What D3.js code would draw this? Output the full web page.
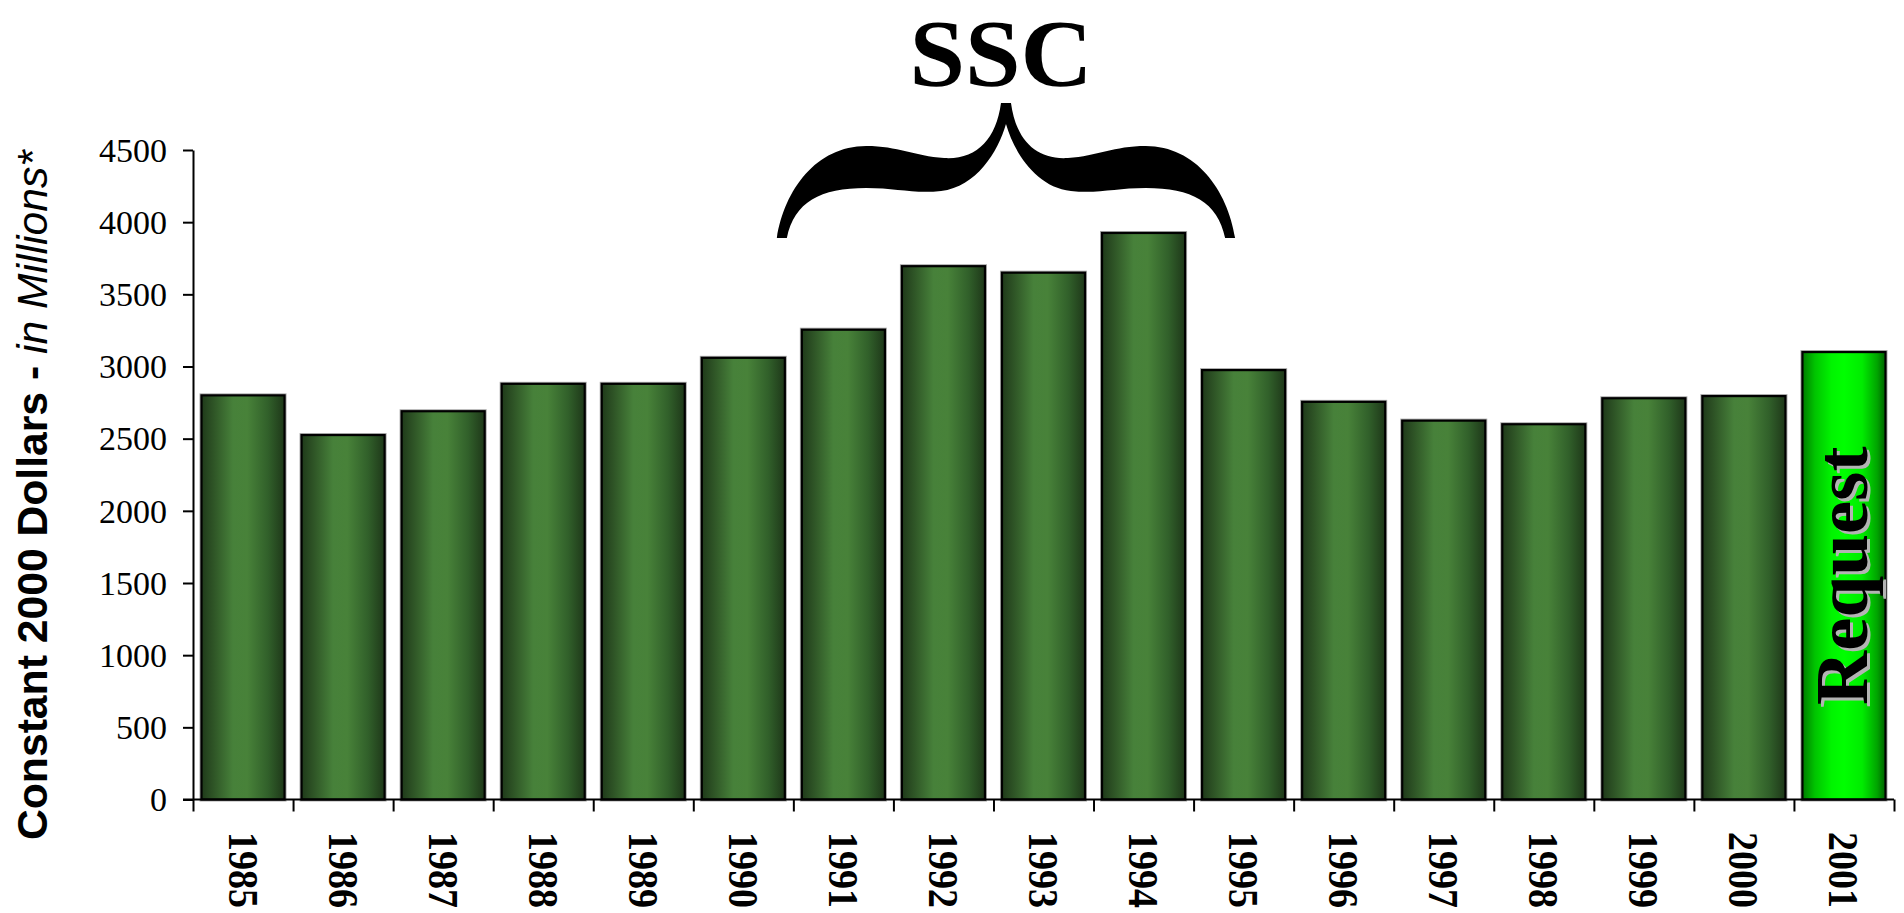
<!DOCTYPE html>
<html>
<head>
<meta charset="utf-8">
<script src="https://cdn.jsdelivr.net/npm/d3@7"></script>
<style>
  html, body { margin: 0; padding: 0; background: #ffffff; }
  svg { display: block; }
</style>
</head>
<body>
<svg id="chart" width="1904" height="913"></svg>
<script>
// Annual funding, constant 2000 dollars (millions)
const years = ["1985", "1986", "1987", "1988", "1989", "1990", "1991", "1992", "1993",
               "1994", "1995", "1996", "1997", "1998", "1999", "2000", "2001"];
const funding = [2800, 2525, 2690, 2880, 2880, 3060, 3255, 3695, 3650,
                 3925, 2975, 2755, 2625, 2600, 2780, 2795, 3100];
const yTicks = [0, 500, 1000, 1500, 2000, 2500, 3000, 3500, 4000, 4500];
const requestYear = "2001";
const requestLabel = "Request";
const sscLabel = "SSC";
const sscSpan = ["1991", "1995"];
const yTitleBold = "Constant 2000 Dollars - ";
const yTitleItalic = "in Millions*";

(function draw() {
  const svg = d3.select("#chart");
  const plotLeft = 193, plotRight = 1894, plotTop = 150, plotBottom = 799.5;

  const y = d3.scaleLinear().domain([0, 4500]).range([plotBottom, plotTop]);
  const x = d3.scaleBand().domain(years).range([plotLeft, plotRight])
    .paddingInner(0.17).paddingOuter(0.085);
  const step = x.step();
  // category boundaries for the x-axis tick marks
  const xb = d3.scaleLinear().domain([0, years.length]).range([plotLeft, plotRight]);

  const defs = svg.append("defs");
  const barGrad = defs.append("linearGradient").attr("id", "barGrad")
    .attr("x1", "0%").attr("x2", "100%").attr("y1", "0%").attr("y2", "0%");
  [[0, "#1f3a1a"], [0.12, "#2c5024"], [0.38, "#47813a"], [0.55, "#488239"],
   [0.8, "#31602a"], [1, "#1e3719"]].forEach(([o, c]) =>
    barGrad.append("stop").attr("offset", o).attr("stop-color", c));
  const reqGrad = defs.append("linearGradient").attr("id", "reqGrad")
    .attr("x1", "0%").attr("x2", "100%").attr("y1", "0%").attr("y2", "0%");
  [[0, "#007c00"], [0.15, "#00c400"], [0.35, "#00f400"], [0.5, "#00ff00"],
   [0.72, "#00ec00"], [0.9, "#00a400"], [1, "#006200"]].forEach(([o, c]) =>
    reqGrad.append("stop").attr("offset", o).attr("stop-color", c));

  // bars
  const data = years.map((yr, i) => ({ year: yr, value: funding[i] }));
  const bars = svg.append("g");
  bars.selectAll("rect.halo").data(data).join("rect")
    .attr("class", "halo")
    .attr("x", d => x(d.year)).attr("y", d => y(d.value))
    .attr("width", x.bandwidth()).attr("height", d => plotBottom - y(d.value))
    .attr("fill", "none").attr("stroke", "#a8a8a8").attr("stroke-width", 4);
  bars.selectAll("rect.bar").data(data).join("rect")
    .attr("class", "bar")
    .attr("x", d => x(d.year)).attr("y", d => y(d.value))
    .attr("width", x.bandwidth()).attr("height", d => plotBottom - y(d.value))
    .attr("fill", d => d.year === requestYear ? "url(#reqGrad)" : "url(#barGrad)")
    .attr("stroke", "#000").attr("stroke-width", 2.2);

  // "Request" label inside the final bar
  const req = data.find(d => d.year === requestYear);
  const rcx = x(req.year) + x.bandwidth() / 2 + 23;
  const rcy = (y(req.value) + plotBottom) / 2;
  [["#b4b4b4", 3, 3], ["#000", 0, 0]].forEach(([col, dx, dy]) => {
    svg.append("text")
      .attr("transform", `translate(${rcx + dx},${rcy + dy}) rotate(-90)`)
      .attr("text-anchor", "middle")
      .attr("font-family", "'Liberation Serif', 'Times New Roman', serif")
      .attr("font-weight", "bold").attr("font-size", 75)
      .attr("fill", col).text(requestLabel);
  });

  // y axis
  const yAxis = svg.append("g").attr("transform", `translate(${plotLeft},0)`)
    .call(d3.axisLeft(y).tickValues(yTicks).tickSize(10).tickSizeOuter(0).tickPadding(16)
      .tickFormat(d3.format("d")));
  yAxis.select(".domain").attr("stroke-width", 2);
  yAxis.selectAll(".tick line").attr("stroke-width", 2);
  yAxis.selectAll(".tick text")
    .attr("font-family", "'Liberation Serif', 'Times New Roman', serif")
    .attr("font-size", 34).attr("fill", "#000").attr("dy", "0.33em");

  // x axis: ticks at category boundaries
  const xAxis = svg.append("g").attr("transform", `translate(0,${plotBottom})`)
    .call(d3.axisBottom(xb).tickValues(d3.range(years.length + 1)).tickSize(12)
      .tickSizeOuter(0).tickFormat(""));
  xAxis.select(".domain").attr("stroke-width", 2)
    .attr("d", `M${plotLeft - 10},0H${plotRight}`);
  xAxis.selectAll(".tick line").attr("stroke-width", 2);

  // year labels, rotated clockwise
  svg.append("g").selectAll("text").data(years).join("text")
    .attr("transform", d => `translate(${x(d) + x.bandwidth() / 2 - 14.5},832) rotate(90) scale(1,1.13)`)
    .attr("font-family", "'Liberation Serif', 'Times New Roman', serif")
    .attr("font-weight", "bold").attr("font-size", 38).attr("fill", "#000")
    .text(d => d);

  // y axis title
  const title = svg.append("text")
    .attr("font-family", "'Liberation Sans', Arial, sans-serif")
    .attr("font-size", 42).attr("fill", "#000");
  title.append("tspan").attr("font-weight", "bold").text(yTitleBold);
  title.append("tspan").attr("font-style", "italic").text(yTitleItalic);
  const tLen = title.node().getComputedTextLength();
  const tScale = 690 / tLen;
  title.attr("transform", `translate(47,840) rotate(-90) scale(${tScale},1)`);

  // brace over the SSC years
  const bx0 = xb(years.indexOf(sscSpan[0])) - 16.5;
  const bx1 = xb(years.indexOf(sscSpan[1])) + step * 0.415;
  const cx = (bx0 + bx1) / 2;
  const hw = (bx1 - bx0) / 2;
  const s = hw / 229.5;
  const P = (dx, yy) => `${cx + dx * s},${yy}`;
  const braceD = [
    `M${P(-5, 103)}`,
    `C${P(-10, 140)} ${P(-30, 160)} ${P(-62, 158)}`,
    `C${P(-92, 156)} ${P(-108, 146)} ${P(-140, 146)}`,
    `C${P(-190, 146)} ${P(-222, 190)} ${P(-229.5, 238)}`,
    `L${P(-219.5, 238)}`,
    `C${P(-212, 202)} ${P(-186, 188)} ${P(-140, 188)}`,
    `C${P(-110, 188)} ${P(-92, 194)} ${P(-65, 191)}`,
    `C${P(-30, 187)} ${P(-8, 152)} ${P(0, 124)}`,
    `C${P(8, 152)} ${P(30, 187)} ${P(65, 191)}`,
    `C${P(92, 194)} ${P(110, 188)} ${P(140, 188)}`,
    `C${P(186, 188)} ${P(212, 202)} ${P(219.5, 238)}`,
    `L${P(229.5, 238)}`,
    `C${P(222, 190)} ${P(190, 146)} ${P(140, 146)}`,
    `C${P(108, 146)} ${P(92, 156)} ${P(62, 158)}`,
    `C${P(30, 160)} ${P(10, 140)} ${P(5, 103)}`,
    "Z"
  ].join(" ");
  svg.append("path").attr("d", braceD).attr("fill", "#000");

  svg.append("text")
    .attr("transform", `translate(${cx - 5},86) scale(1.04,1)`)
    .attr("text-anchor", "middle")
    .attr("font-family", "'Liberation Serif', 'Times New Roman', serif")
    .attr("font-weight", "bold").attr("font-size", 96).attr("fill", "#000")
    .text(sscLabel);
})();
</script>
</body>
</html>
